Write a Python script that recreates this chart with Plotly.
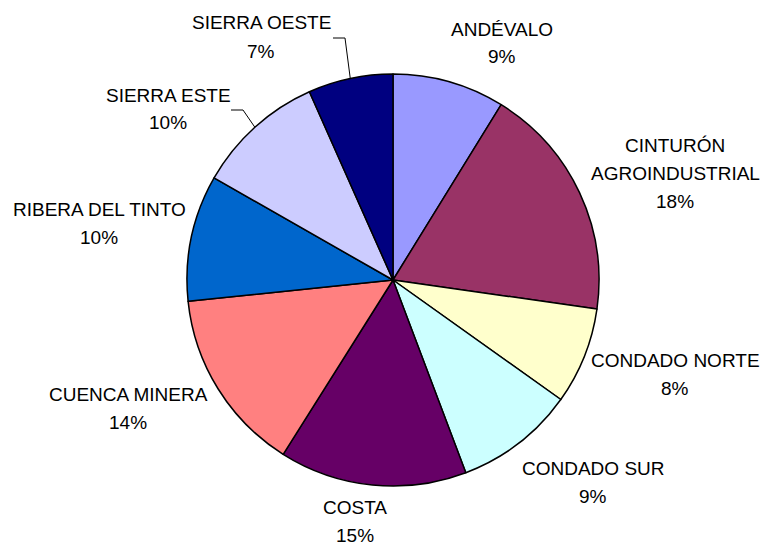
import math
import plotly.graph_objects as go

# ---- data -------------------------------------------------------------
regions = [
    "ANDÉVALO",
    "CINTURÓN AGROINDUSTRIAL",
    "CONDADO NORTE",
    "CONDADO SUR",
    "COSTA",
    "CUENCA MINERA",
    "RIBERA DEL TINTO",
    "SIERRA ESTE",
    "SIERRA OESTE",
]
shares = [8.8, 18.45, 7.6, 9.4, 14.7, 14.4, 9.9, 10.1, 6.65]

colors = ["#9999FF", "#993366", "#FFFFCC", "#CCFFFF", "#660066",
          "#FF8080", "#0066CC", "#CCCCFF", "#000080"]

# ---- layout helpers -----------------------------------------------------
W, H = 766, 548
CX, CY, R = 393, 280, 206          # pie centre / radius in pixels
FONT = "Liberation Sans, Arial, sans-serif"
FS = 19
LINE_GAP = 28

# label block: centre x and centre y of first text line (pixels)
label_pos = [
    (502, 29), (675, 145), (675, 360), (593, 468), (355, 507),
    (128, 394), (99, 209), (168, 95), (261, 23),
]
line_breaks = {"CINTURÓN AGROINDUSTRIAL": ["CINTURÓN", "AGROINDUSTRIAL"]}
# leader lines: (start, elbow) in pixels, end computed on the pie rim
leaders = {"SIERRA OESTE": [(333, 38), (345, 38)],
           "SIERRA ESTE": [(231, 110), (243, 110)]}


def px(x):
    return x / W


def py(y):
    return 1 - y / H


fig = go.Figure(go.Pie(
    labels=regions,
    values=shares,
    sort=False,
    direction="clockwise",
    rotation=0,
    marker=dict(colors=colors, line=dict(color="black", width=1.5)),
    textinfo="none",
    hoverinfo="label+percent",
    showlegend=False,
    domain=dict(x=[px(CX - R), px(CX + R)], y=[py(CY + R), py(CY - R)]),
))

total = sum(shares)
annotations = []
shapes = []
cum = 0.0
for name, v, (lx, ly) in zip(regions, shares, label_pos):
    pct = round(v / total * 100)
    lines = line_breaks.get(name, [name]) + [f"{pct}%"]
    for i, t in enumerate(lines):
        annotations.append(dict(
            x=px(lx), y=py(ly + i * LINE_GAP), xref="paper", yref="paper",
            text=t, showarrow=False, xanchor="center", yanchor="middle",
            font=dict(family=FONT, size=FS, color="black"),
        ))
    mid = (cum + v / 2) / total * 2 * math.pi
    cum += v
    if name in leaders:
        ex = CX + R * math.sin(mid)
        ey = CY - R * math.cos(mid)
        pts = leaders[name] + [(ex, ey)]
        path = "M " + " L ".join(f"{px(a)},{py(b)}" for a, b in pts)
        shapes.append(dict(type="path", path=path, xref="paper", yref="paper",
                           line=dict(color="black", width=1)))

fig.update_layout(
    width=W, height=H,
    margin=dict(l=0, r=0, t=0, b=0),
    paper_bgcolor="white",
    plot_bgcolor="white",
    annotations=annotations,
    shapes=shapes,
    font=dict(family=FONT),
)

fig.write_html("out.html",
               config={"displayModeBar": False},
               post_script="document.body.style.margin='0';document.body.style.overflow='hidden';")
